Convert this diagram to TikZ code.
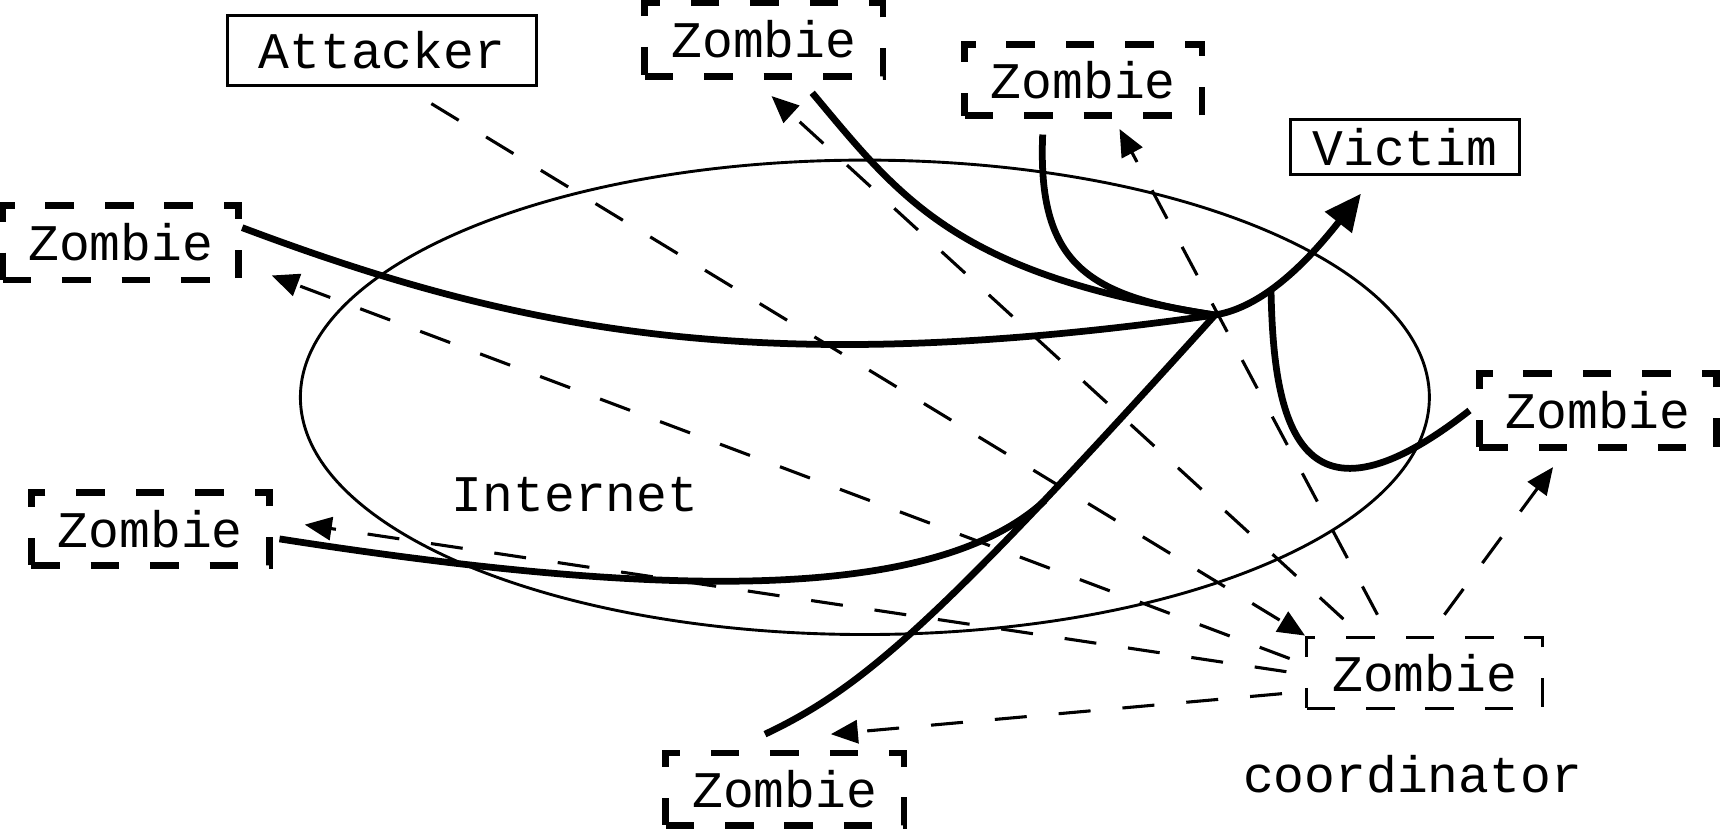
\documentclass[tikz,border=0pt]{standalone}
\usepackage{fontspec}
\newfontfamily\mono{Liberation Mono}
\usetikzlibrary{arrows.meta,calc}
\begin{document}
\begin{tikzpicture}[x=0.01cm,y=-0.01cm,
  lbl/.style={font=\mono\fontsize{13.3}{16}\selectfont, inner sep=0pt},
  zbox/.style={lbl, draw, line width=1.75pt, dash pattern=on 7.4pt off 8pt, minimum width=2.17cm, minimum height=0.67cm},
  cbox/.style={lbl, draw, line width=0.8pt, dash pattern=on 7.4pt off 8pt, minimum width=2.15cm, minimum height=0.65cm},
  sbox/.style={lbl, draw, line width=0.8pt},
  att/.style={line width=1.75pt},
  ctl/.style={line width=0.8pt, dash pattern=on 8.3pt off 8.3pt, -{Triangle[length=7pt,width=6pt]}},
]
\useasboundingbox (0,0) rectangle (1568,755);
\draw[line width=0.75pt] (788,362) ellipse [x radius=5.14cm, y radius=2.16cm];

\node[sbox, minimum width=2.82cm, minimum height=0.64cm] (att) at (348,46) {Attacker};
\node[zbox] (zt) at (696,36) {Zombie};
\node[zbox, minimum width=2.16cm, minimum height=0.65cm] (zt2) at (987,73) {Zombie};
\node[sbox, minimum width=2.08cm, minimum height=0.5cm] (vic) at (1280,134) {Victim};
\node[zbox, minimum width=2.15cm, minimum height=0.68cm] (zl1) at (110,221) {Zombie};
\node[zbox, minimum width=2.16cm] (zr) at (1456,374) {Zombie};
\node[zbox, minimum height=0.66cm] (zl2) at (137,482) {Zombie};
\node[cbox] (co) at (1298,613) {Zombie};
\node[zbox, minimum height=0.66cm] (zb) at (715,719) {Zombie};
\node[lbl] (inet) at (524,451) {Internet};
\node[lbl] (ctxt) at (1287,705) {coordinator};

\coordinate (hub) at (1107,287);
\coordinate (jn) at (1158,263);
\coordinate (mg) at (952,456);

% attack traffic
\draw[att] (zl1.7) .. controls (480,305) and (700,345) .. (hub);
\draw[att] ($(zt.south)+(44,12)$) .. controls (820,180) and (870,250) .. (hub);
\draw[att] ($(zt2.south)+(-37,14)$) .. controls (945,240) and (990,270) .. (hub);
\draw[att, -{Triangle[length=9.5pt,width=8.5pt]}] (hub) .. controls (1150,280) and (1190,240) .. ($(vic.south)+(-40,16)$);
\draw[att] ($(zr.west)+(-6,0)$) .. controls (1178,500) and (1160,375) .. (jn);
\draw[att] ($(zb.north)+(-18,-14)$) .. controls (790,625) and (860,560) .. (hub);
\draw[att] ($(zl2.east)+(6,9)$) .. controls (600,545) and (850,550) .. (mg);

% control traffic
\draw[ctl] ($(att.south)+(45,15)$) -- (co.north west);
\draw[ctl] ($(co.north)+(-74,-15)$) -- ($(zt.south)+(7,15)$);
\draw[ctl] ($(co.north)+(-43,-19)$) -- ($(zt2.south)+(33,9)$);
\draw[ctl] ($(co.north)+(18,-19)$) -- ($(zr.south)+(-41,15)$);
\draw[ctl] ($(co.west)+(-14,-13)$) -- ($(zl1.east)+(27,30)$);
\draw[ctl] ($(co.west)+(-17,-1)$) -- ($(zl2.east)+(29,-4)$);
\draw[ctl] ($(co.west)+(-21,19)$) -- ($(zb.north)+(42,-14)$);
\end{tikzpicture}
\end{document}
